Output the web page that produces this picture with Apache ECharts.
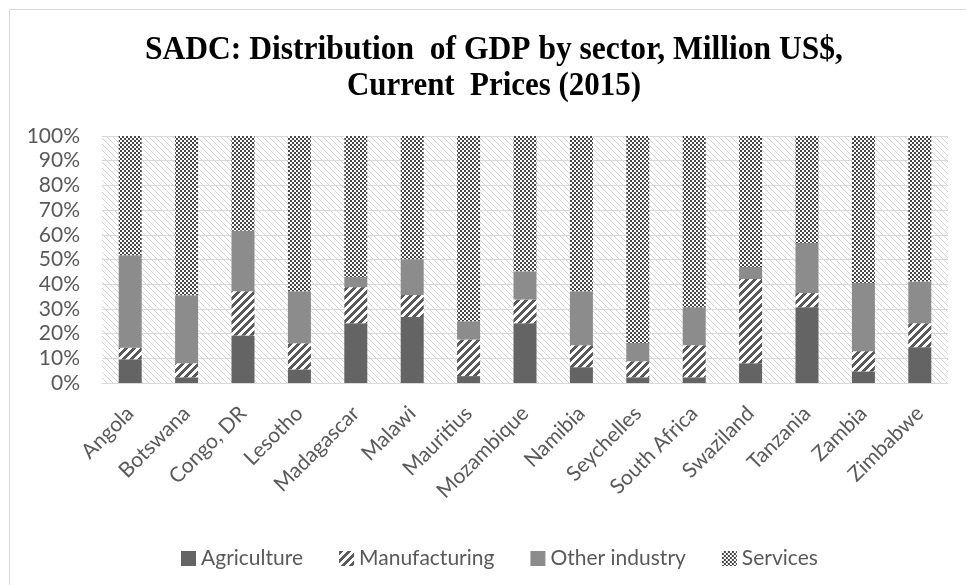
<!DOCTYPE html>
<html>
<head>
<meta charset="utf-8">
<script src="https://cdn.jsdelivr.net/npm/echarts@6/dist/echarts.min.js"></script>
<style>
  html, body { margin: 0; padding: 0; background: #fff; }
  #chart { width: 966px; height: 585px; }
</style>
</head>
<body>
<div id="chart"></div>
<script>
// Share of GDP by sector, %
const categories = ['Angola', 'Botswana', 'Congo, DR', 'Lesotho', 'Madagascar', 'Malawi', 'Mauritius',
  'Mozambique', 'Namibia', 'Seychelles', 'South Africa', 'Swaziland', 'Tanzania', 'Zambia', 'Zimbabwe'];
const agriculture   = [9.6, 2.3, 19.2, 5.5, 24.2, 26.7, 2.8, 24.2, 6.4, 2.3, 2.3, 8.0, 30.7, 4.7, 14.5];
const manufacturing = [4.7, 5.7, 17.9, 10.6, 14.6, 8.9, 14.8, 9.6, 8.9, 6.5, 13.0, 34.1, 5.7, 8.2, 9.7];
const otherIndustry = [37.4, 27.5, 24.5, 21.0, 4.1, 14.5, 7.4, 11.4, 21.8, 7.4, 15.4, 4.9, 20.3, 27.6, 16.9];
const services      = [48.3, 64.5, 38.4, 62.9, 57.1, 49.9, 75.0, 54.8, 62.9, 83.8, 69.3, 53.0, 43.3, 59.5, 58.9];

const titleLines = ['SADC: Distribution  of GDP by sector, Million US$,', 'Current  Prices (2015)'];

// pixel patterns, Excel-style fills
function makePattern(size, painter) {
  const c = document.createElement('canvas');
  c.width = size; c.height = size;
  const ctx = c.getContext('2d');
  const img = ctx.createImageData(size, size);
  for (let y = 0; y < size; y++) {
    for (let x = 0; x < size; x++) {
      const col = painter(x, y);
      const i = (y * size + x) * 4;
      img.data[i] = col[0]; img.data[i + 1] = col[1]; img.data[i + 2] = col[2]; img.data[i + 3] = 255;
    }
  }
  ctx.putImageData(img, 0, 0);
  return { image: c, repeat: 'repeat' };
}
const WHITE = [255, 255, 255];
const DARK = [89, 89, 89];
const stripes = makePattern(8, (x, y) => ((x + y) % 8 < 4 ? DARK : WHITE));
const checker = makePattern(4, (x, y) => (((x >> 1) + (y >> 1)) % 2 ? [70, 70, 70] : WHITE));
const plotBg = makePattern(6, (x, y) => ((x - y + 60) % 6 === 0 ? [212, 212, 212] : WHITE));

// title is a condensed Times face: fit each line to its measured width
const measureCtx = document.createElement('canvas').getContext('2d');
const titleFont = 'bold 33px "Liberation Serif"';
measureCtx.font = titleFont;
function titleLine(text, y, width) {
  const s = width / measureCtx.measureText(text).width;
  return {
    type: 'text', x: 494, y: y, scaleX: s,
    style: { text: text, font: titleFont, fill: '#000', textAlign: 'center', textVerticalAlign: 'middle' }
  };
}

const chart = echarts.init(document.getElementById('chart'));
const labelFont = { color: '#595959', fontSize: 21, fontFamily: 'Lato' };

function barSeries(name, data, color) {
  return {
    name: name, type: 'bar', stack: 'gdp', data: data, barWidth: 23,
    itemStyle: { color: color },
    emphasis: { disabled: true }
  };
}

chart.setOption({
  animation: false,
  backgroundColor: '#fff',
  graphic: [
    { type: 'rect', shape: { x: 9.5, y: 9.5, width: 1000, height: 1000 },
      style: { fill: 'none', stroke: '#d9d9d9', lineWidth: 1 }, z: -10 },
    titleLine(titleLines[0], 50, 698),
    titleLine(titleLines[1], 86, 294)
  ],
  grid: {
    left: 102, right: 18, top: 136, bottom: 202,
    show: true, backgroundColor: plotBg, borderWidth: 0
  },
  legend: {
    left: 176, top: 543, itemWidth: 15, itemHeight: 15, itemGap: 36,
    icon: 'rect', textStyle: labelFont,
    data: ['Agriculture', 'Manufacturing', 'Other industry', 'Services']
  },
  xAxis: {
    type: 'category', data: categories,
    axisLine: { lineStyle: { color: '#d9d9d9', width: 1 } },
    axisTick: { show: false },
    axisLabel: Object.assign({ interval: 0, rotate: 45, margin: 27 }, labelFont)
  },
  yAxis: {
    type: 'value', min: 0, max: 100, interval: 10,
    axisLine: { show: false },
    axisTick: { show: false },
    splitLine: { lineStyle: { color: '#d9d9d9', width: 1 } },
    axisLabel: Object.assign({ formatter: '{value}%', margin: 22 }, labelFont)
  },
  series: [
    barSeries('Agriculture', agriculture, '#646464'),
    barSeries('Manufacturing', manufacturing, stripes),
    barSeries('Other industry', otherIndustry, '#8c8c8c'),
    barSeries('Services', services, checker)
  ]
});
</script>
</body>
</html>
